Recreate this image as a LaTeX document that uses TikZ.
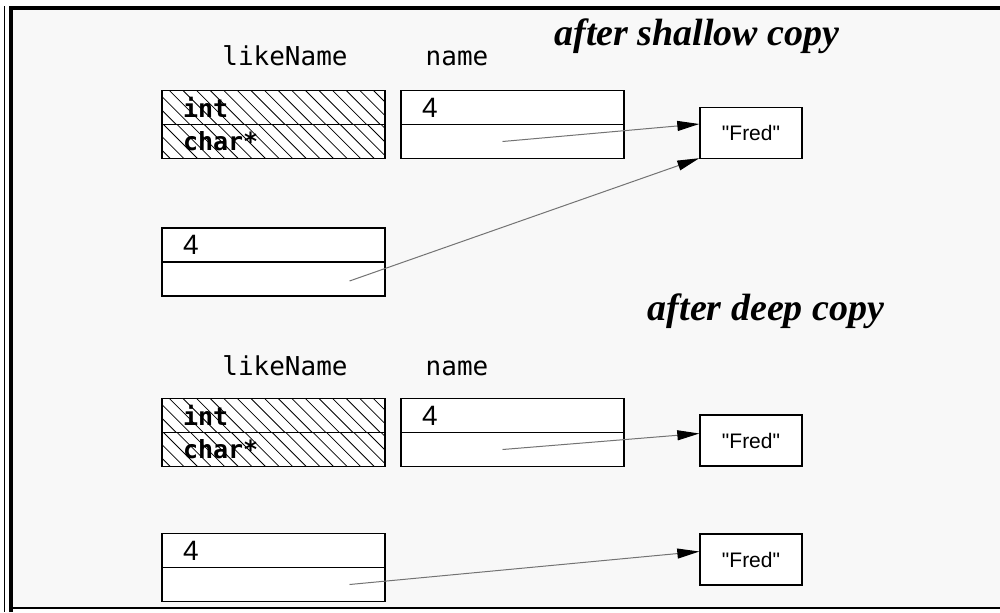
\documentclass[tikz,border=0pt]{standalone}
\usepackage{fontspec}
\usetikzlibrary{arrows.meta,positioning}
\newfontfamily\monofont{DejaVu Sans Mono}
\newfontfamily\cellfont{Liberation Sans}
\newfontfamily\titlefont{Liberation Serif}
\definecolor{paper}{HTML}{F8F8F8}
\tikzset{
    cell/.style={
        draw, fill=white,         % celda blanca con borde negro
        line width=0.7pt,
        outer sep=0pt,
        minimum width=111.5pt,
        minimum height=17pt,
        inner ysep=0pt, inner xsep=10.5pt,
        text width=90.5pt,
        align=left,
        font=\cellfont\fontsize{14}{14}\selectfont
    },
    hatched/.style={
        cell,
        font=\monofont\bfseries\fontsize{12.5}{12.5}\selectfont,
        path picture={            % rayado diagonal; #1 = desfase para la celda de abajo
            \foreach \k in {-40,...,40}
                \draw[line width=0.4pt] (\k*13.6-120+#1,-120) -- ++(240,240);
        }
    },
    hatched/.default=0,
    strbox/.style={
        draw, fill=white,
        line width=0.7pt,
        minimum width=51pt,
        minimum height=25.5pt,
        inner sep=0pt,
        font=\cellfont\fontsize{10.5}{10.5}\selectfont
    },
    varlabel/.style={anchor=base, font=\monofont\fontsize{13}{13}\selectfont},
    heading/.style={anchor=base, font=\titlefont\bfseries\itshape\fontsize{19}{19}\selectfont},
    link/.style={
        draw=black!55, line width=0.5pt,
        -{Triangle[length=11pt,width=5pt,color=black]}
    }
}
\begin{document}
\begin{tikzpicture}[x=0.5pt,y=-0.5pt]
    \useasboundingbox (0,0) rectangle (1000,612);
    % marco
    \fill[paper] (10,8) rectangle (1000,608);
    \draw[line width=0.5pt] (4.5,6) -- (4.5,612);
    \draw[line width=1pt] (10,608) -- (1000,608);
    \draw[line width=2pt] (10.5,612) -- (10.5,8) -- (1000,8);

    % after shallow copy
    \node[heading] (shallow) at (697,45) {after shallow copy};
    \node[varlabel] (like1) at (285,65) {likeName};
    \node[varlabel] (name1) at (457,65) {name};

    \node[hatched] (hint1) at (273.5,107.5) {int};
    \node[hatched=6.8, below=0pt of hint1] (hptr1) {char*};
    \node[cell, right=8pt of hint1] (nval1) {4};
    \node[cell, below=0pt of nval1] (nptr1) {};
    \node[strbox] (fred1) at (751,133) {"Fred"};

    \node[cell] (oval1) at (273.5,245) {4};
    \node[cell, below=0pt of oval1] (optr1) {};

    \draw[link] ([xshift=-5pt]nptr1.center) -- ([yshift=4.5pt]fred1.west);
    \draw[link] ([xshift=38pt,yshift=-1pt]optr1.center) -- ([yshift=0.5pt]fred1.south west);

    % after deep copy
    \node[heading] (deep) at (766,320) {after deep copy};
    \node[varlabel] (like2) at (285,375) {likeName};
    \node[varlabel] (name2) at (457,375) {name};

    \node[hatched] (hint2) at (273.5,415.5) {int};
    \node[hatched=6.8, below=0pt of hint2] (hptr2) {char*};
    \node[cell, right=8pt of hint2] (nval2) {4};
    \node[cell, below=0pt of nval2] (nptr2) {};
    \node[strbox] (fred2) at (751,440.5) {"Fred"};

    \node[cell] (oval2) at (273.5,550.5) {4};
    \node[cell, below=0pt of oval2] (optr2) {};
    \node[strbox] (fred3) at (751,559.5) {"Fred"};

    \draw[link] ([xshift=-5pt]nptr2.center) -- ([yshift=3.5pt]fred2.west);
    \draw[link] ([xshift=38pt]optr2.center) -- ([yshift=4pt]fred3.west);
\end{tikzpicture}
\end{document}
